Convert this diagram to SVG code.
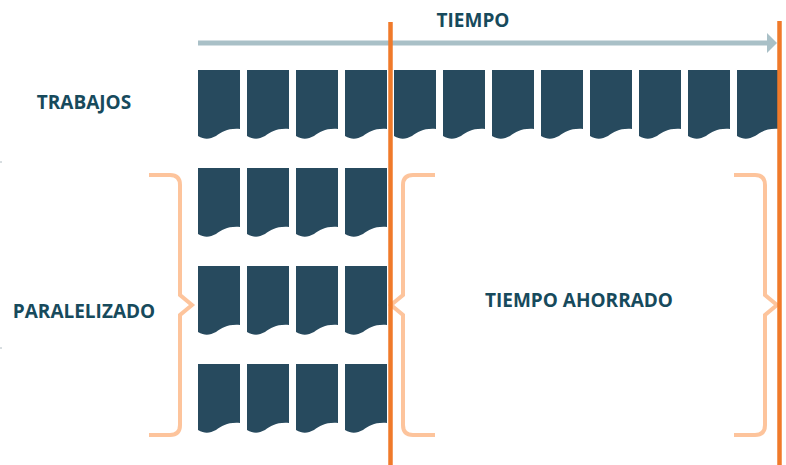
<svg xmlns="http://www.w3.org/2000/svg" width="786" height="465" viewBox="0 0 786 465">
<defs>
<style>
.lbl{font-family:"Open Sans","Liberation Sans",sans-serif;font-weight:700;font-size:19px;fill:#174a5c}
.doc{fill:#274a5e}
.brace{fill:none;stroke:#fdc49c;stroke-width:4;stroke-linejoin:miter}
.time{stroke:#f07a2a;stroke-width:4.5}
</style>
<path id="d" d="M0,0 H42 V59 C30,58 24,62 18,66 C12,69 7,70 0,66 Z"/>
</defs>
<rect width="786" height="465" fill="#ffffff"/>
<g id="ticks" stroke="#b0bcc2" stroke-width="1"><line x1="0" y1="162" x2="2" y2="162"/><line x1="0" y1="348" x2="2" y2="348"/></g>
<g id="trabajos">
<use href="#d" class="doc" x="198" y="70"/><use href="#d" class="doc" x="247" y="70"/><use href="#d" class="doc" x="296" y="70"/><use href="#d" class="doc" x="345" y="70"/><use href="#d" class="doc" x="394" y="70"/><use href="#d" class="doc" x="443" y="70"/><use href="#d" class="doc" x="492" y="70"/><use href="#d" class="doc" x="541" y="70"/><use href="#d" class="doc" x="590" y="70"/><use href="#d" class="doc" x="639" y="70"/><use href="#d" class="doc" x="688" y="70"/><use href="#d" class="doc" x="737" y="70"/>
</g>
<g id="paralelo1">
<use href="#d" class="doc" x="198" y="168"/><use href="#d" class="doc" x="247" y="168"/><use href="#d" class="doc" x="296" y="168"/><use href="#d" class="doc" x="345" y="168"/>
</g>
<g id="paralelo2">
<use href="#d" class="doc" x="198" y="266"/><use href="#d" class="doc" x="247" y="266"/><use href="#d" class="doc" x="296" y="266"/><use href="#d" class="doc" x="345" y="266"/>
</g>
<g id="paralelo3">
<use href="#d" class="doc" x="198" y="364"/><use href="#d" class="doc" x="247" y="364"/><use href="#d" class="doc" x="296" y="364"/><use href="#d" class="doc" x="345" y="364"/>
</g>
<g id="connectors">
<line x1="198" y1="43" x2="768" y2="43" stroke="#a9c0c7" stroke-width="5"/>
<polygon points="767,33 777,43 767,53" fill="#a9c0c7"/>
<path class="brace" d="M149,175 H170 Q180,175 180,185 V295 L192,305 L180,315 V425 Q180,435 170,435 H149"/>
<path class="brace" d="M435,175 H413 Q403,175 403,185 V295 L391,305 L403,315 V425 Q403,435 413,435 H435"/>
<path class="brace" d="M734,175 H755 Q765,175 765,185 V295 L777,305 L765,315 V425 Q765,435 755,435 H734"/>
<line class="time" x1="390.5" y1="22" x2="390.5" y2="465"/>
<line class="time" x1="779.5" y1="21" x2="779.5" y2="465"/>
</g>
<g id="labels">
<text class="lbl" x="473" y="27" text-anchor="middle">TIEMPO</text>
<text class="lbl" x="84" y="109" text-anchor="middle">TRABAJOS</text>
<text class="lbl" x="84" y="318" text-anchor="middle">PARALELIZADO</text>
<text class="lbl" x="579" y="307" text-anchor="middle">TIEMPO AHORRADO</text>
</g>
</svg>
